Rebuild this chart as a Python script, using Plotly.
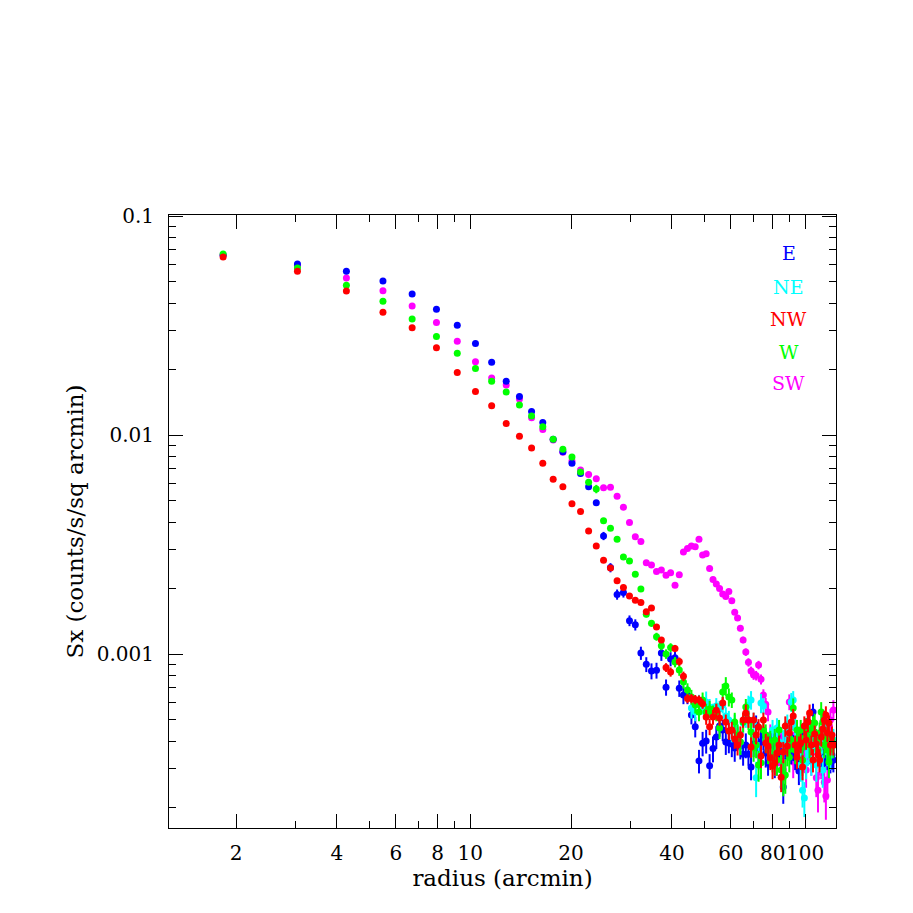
import plotly.graph_objects as go

# ---------------- data ----------------
radius = [1.83, 3.05, 4.27, 5.49, 6.71, 7.93, 9.15, 10.37, 11.59, 12.81,
          14.03, 15.25, 16.47, 17.69, 18.91, 20.13, 21.35, 22.57, 23.79, 25.01,
          26.23, 27.45, 28.67, 29.89, 31.11, 32.33, 33.55, 34.77, 35.99, 37.21,
          38.43, 39.65, 40.87, 42.09, 43.31, 44.53, 45.75, 46.97, 48.19, 49.41,
          50.63, 51.85, 53.07, 54.29, 55.51, 56.73, 57.95, 59.17, 60.39, 61.61,
          62.83, 64.05, 65.27, 66.49, 67.71, 68.93, 70.15, 71.37, 72.59, 73.81,
          75.03, 76.25, 77.47, 78.69, 79.91, 81.13, 82.35, 83.57, 84.79, 86.01,
          87.23, 88.45, 89.67, 90.89, 92.11, 93.33, 94.55, 95.77, 96.99, 98.21,
          99.43, 100.65, 101.87, 103.09, 104.31, 105.53, 106.75, 107.97, 109.19, 110.41,
          111.63, 112.85, 114.07, 115.29, 116.51, 117.73, 118.95, 120.17, 121.39]

radius_ne = [45.75, 46.97, 48.19, 49.41, 50.63, 51.85, 53.07, 54.29, 55.51, 56.73,
             57.95, 59.17, 60.39, 61.61, 62.83, 64.05, 65.27, 66.49, 67.71, 68.93,
             70.15, 71.37, 72.59, 73.81, 75.03, 76.25, 77.47, 78.69, 79.91, 81.13,
             82.35, 83.57, 84.79, 86.01, 87.23, 88.45, 89.67, 90.89, 92.11, 93.33,
             94.55, 95.77, 96.99, 98.21, 99.43, 100.65, 101.87, 103.09, 104.31, 105.53,
             106.75, 107.97, 109.19, 110.41, 111.63, 112.85, 114.07, 115.29, 116.51, 117.73,
             118.95, 120.17, 121.39]

sx_E = [0.0662, 0.0604, 0.0559, 0.0505, 0.0440, 0.0375, 0.0317, 0.0262, 0.0215, 0.0176,
        0.0150, 0.0128, 0.0114, 0.00956, 0.00839, 0.00743, 0.00668, 0.00581, 0.00491, 0.00346,
        0.00248, 0.00187, 0.00191, 0.00142, 0.00136, 0.00101, 0.000897, 0.000836, 0.000842, 0.00101,
        0.000705, 0.000949, 0.000962, 0.000697, 0.000650, 0.000650, 0.000527, 0.000466, 0.000325, 0.000391,
        0.000401, 0.000309, 0.000370, 0.000418, 0.000469, 0.000450, 0.000396, 0.000392, 0.000388, 0.000372,
        0.000413, 0.000380, 0.000349, 0.000384, 0.000349, 0.000305, 0.000388, 0.000474, 0.000372, 0.000396,
        0.000413, 0.000353, 0.000318, 0.000372, 0.000405, 0.000311, 0.000422, 0.000392, 0.000342, 0.000247,
        0.000380, 0.000413, 0.000427, 0.000364, 0.000376, 0.000335, 0.000396, 0.000292, 0.000328, 0.000405,
        0.000436, 0.000459, 0.000489, 0.000364, 0.000427, 0.000543, 0.000413, 0.000392, 0.000364, 0.000384,
        0.000338, 0.000318, 0.000328, 0.000357, 0.000335, 0.000372, 0.000325, 0.000346, 0.000328]

err_E = [0, 0, 0, 0, 0, 0, 0, 0, 0, 0,
         0, 0, 0.0001, 0.0001, 0.0001, 0.0001, 0.0001, 0.0001, 0.0001, 0.00015,
         0.00012, 0.0001, 0.0001, 0.00008, 0.00008, 0.00007, 0.00007, 0.00007, 0.00007, 0.00008,
         0.00006, 0.00007, 0.00007, 0.00006, 0.00006, 0.00006, 0.00005, 0.00005, 0.00004, 0.00005,
         0.00005, 0.00004, 0.00005, 0.00005, 0.00005, 0.00005, 0.00005, 0.00004, 0.00005, 0.00005,
         0.00005, 0.00005, 0.00004, 0.00005, 0.00004, 0.00004, 0.00005, 0.00005, 0.00005, 0.00005,
         0.00005, 0.00005, 0.00004, 0.00005, 0.00005, 0.00004, 0.00005, 0.00005, 0.00004, 0.00004,
         0.00005, 0.00005, 0.00005, 0.00005, 0.00005, 0.00004, 0.00005, 0.00004, 0.00004, 0.00005,
         0.00005, 0.00005, 0.00005, 0.00005, 0.00005, 0.00005, 0.00005, 0.00005, 0.00005, 0.00005,
         0.00004, 0.00004, 0.00004, 0.00005, 0.00004, 0.00005, 0.00004, 0.00005, 0.00004]

sx_NE = [0.000567, 0.000543, 0.000591, 0.000579, 0.000604, 0.000573, 0.000543, 0.000579, 0.000561, 0.000585,
         0.000521, 0.000500, 0.000445, 0.000479, 0.000422, 0.000396, 0.000484, 0.000510, 0.000585, 0.000617,
         0.000489, 0.000272, 0.000346, 0.000597, 0.000579, 0.000405, 0.000384, 0.000357, 0.000450, 0.000328,
         0.000459, 0.000396, 0.000295, 0.000384, 0.000436, 0.000479, 0.000413, 0.000604, 0.000617, 0.000459,
         0.000372, 0.000413, 0.000311, 0.000239, 0.000220, 0.000318, 0.000384, 0.000450, 0.000328, 0.000364,
         0.000427, 0.000311, 0.000384, 0.000357, 0.000413, 0.000295, 0.000459, 0.000396, 0.000357, 0.000418,
         0.000346, 0.000384, 0.000405]

err_NE = [0.00006, 0.00005, 0.00006, 0.00005, 0.00007, 0.00005, 0.00005, 0.00005, 0.00005, 0.00005,
          0.00005, 0.00005, 0.00005, 0.00005, 0.00005, 0.00005, 0.00005, 0.00005, 0.00006, 0.00006,
          0.00005, 0.00005, 0.00005, 0.00006, 0.00005, 0.00005, 0.00005, 0.00005, 0.00005, 0.00005,
          0.00005, 0.00005, 0.00005, 0.00005, 0.00005, 0.00005, 0.00005, 0.00006, 0.00006, 0.00005,
          0.00005, 0.00005, 0.00005, 0.00004, 0.00004, 0.00005, 0.00005, 0.00005, 0.00005, 0.00005,
          0.00005, 0.00005, 0.00005, 0.00005, 0.00005, 0.00005, 0.00005, 0.00005, 0.00005, 0.00005,
          0.00005, 0.00005, 0.00005]

sx_NW = [0.0650, 0.0559, 0.0454, 0.0364, 0.0309, 0.0250, 0.0193, 0.0158, 0.0136, 0.0113,
         0.00986, 0.00872, 0.00743, 0.00628, 0.00581, 0.00486, 0.00447, 0.00364, 0.00311, 0.00268,
         0.00247, 0.00216, 0.00201, 0.00184, 0.00176, 0.00172, 0.00156, 0.00162, 0.00133, 0.00116,
         0.000868, 0.000828, 0.00106, 0.000924, 0.000791, 0.000626, 0.000626, 0.000620, 0.000617, 0.000592,
         0.000515, 0.000466, 0.000515, 0.000553, 0.000510, 0.000597, 0.000489, 0.000445, 0.000450, 0.000409,
         0.000384, 0.000427, 0.000500, 0.000538, 0.000500, 0.000376, 0.000500, 0.000427, 0.000464, 0.000342,
         0.000500, 0.000392, 0.000380, 0.000335, 0.000308, 0.000318, 0.000353, 0.000384, 0.000274, 0.000357,
         0.000469, 0.000380, 0.000436, 0.000489, 0.000521, 0.000384, 0.000338, 0.000380, 0.000392, 0.000305,
         0.000469, 0.000405, 0.000489, 0.000538, 0.000384, 0.000328, 0.000431, 0.000388, 0.000346, 0.000328,
         0.000418, 0.000454, 0.000500, 0.000527, 0.000436, 0.000484, 0.000384, 0.000427, 0.000384]

err_NW = [0, 0, 0, 0, 0, 0, 0, 0, 0, 0,
          0, 0, 0, 0, 0, 0, 0, 0, 0, 0,
          0, 0, 0, 0, 0, 0, 0, 0, 0, 0,
          0.00004, 0.00004, 0.00004, 0.00004, 0.00004, 0.00003, 0.00003, 0.00003, 0.00003, 0.00003,
          0.00004, 0.00004, 0.00004, 0.00004, 0.00004, 0.00004, 0.00004, 0.00004, 0.00004, 0.00004,
          0.00004, 0.00004, 0.00004, 0.00005, 0.00004, 0.00004, 0.00004, 0.00004, 0.00004, 0.00004,
          0.00004, 0.00004, 0.00004, 0.00004, 0.00004, 0.00004, 0.00004, 0.00004, 0.00004, 0.00004,
          0.00005, 0.00004, 0.00004, 0.00004, 0.00004, 0.00004, 0.00004, 0.00004, 0.00004, 0.00004,
          0.00005, 0.00004, 0.00005, 0.00005, 0.00004, 0.00004, 0.00004, 0.00004, 0.00004, 0.00004,
          0.00004, 0.00004, 0.00005, 0.00005, 0.00004, 0.00004, 0.00004, 0.00004, 0.00004]

sx_W = [0.0671, 0.0579, 0.0483, 0.0408, 0.0339, 0.0282, 0.0236, 0.0201, 0.0176, 0.0157,
        0.0137, 0.0122, 0.0109, 0.00956, 0.00860, 0.00793, 0.00678, 0.00608, 0.00567, 0.00406,
        0.00375, 0.00334, 0.00277, 0.00266, 0.00231, 0.00198, 0.00152, 0.00138, 0.00120, 0.00109,
        0.00100, 0.00107, 0.000919, 0.000845, 0.000745, 0.000685, 0.000636, 0.000585, 0.000543, 0.000617,
        0.000543, 0.000561, 0.000532, 0.000543, 0.000459, 0.000671, 0.000714, 0.000636, 0.000617, 0.000489,
        0.000427, 0.000396, 0.000489, 0.000573, 0.000500, 0.000440, 0.000372, 0.000384, 0.000311, 0.000318,
        0.000450, 0.000427, 0.000364, 0.000396, 0.000338, 0.000405, 0.000328, 0.000450, 0.000295, 0.000274,
        0.000280, 0.000357, 0.000338, 0.000405, 0.000567, 0.000364, 0.000450, 0.000405, 0.000450, 0.000328,
        0.000413, 0.000459, 0.000450, 0.000384, 0.000450, 0.000469, 0.000484, 0.000405, 0.000364, 0.000436,
        0.000543, 0.000489, 0.000384, 0.000413, 0.000364, 0.000321, 0.000372, 0.000405, 0.000384]

err_W = [0, 0, 0, 0, 0, 0, 0, 0, 0, 0,
         0, 0, 0, 0, 0, 0, 0, 0, 0.00025, 0.00006,
         0.00006, 0.00006, 0.00006, 0.00006, 0.00006, 0.00006, 0.00005, 0.00005, 0.00005, 0.00005,
         0.00005, 0.00005, 0.00005, 0.00005, 0.00005, 0.00005, 0.00005, 0.00005, 0.00005, 0.00005,
         0.00005, 0.00005, 0.00005, 0.00005, 0.00005, 0.00006, 0.00007, 0.00006, 0.00005, 0.00005,
         0.00005, 0.00005, 0.00005, 0.00005, 0.00005, 0.00005, 0.00005, 0.00005, 0.00005, 0.00005,
         0.00005, 0.00005, 0.00005, 0.00005, 0.00005, 0.00005, 0.00005, 0.00005, 0.00005, 0.00005,
         0.00005, 0.00005, 0.00005, 0.00005, 0.00006, 0.00005, 0.00005, 0.00005, 0.00005, 0.00005,
         0.00005, 0.00005, 0.00005, 0.00005, 0.00005, 0.00005, 0.00005, 0.00005, 0.00005, 0.00005,
         0.00006, 0.00005, 0.00005, 0.00005, 0.00005, 0.00005, 0.00005, 0.00005, 0.00005]

sx_SW = [0.0664, 0.0595, 0.0521, 0.0456, 0.0388, 0.0326, 0.0268, 0.0216, 0.0182, 0.0169,
         0.0146, 0.0120, 0.0106, 0.0095, 0.00835, 0.00760, 0.00692, 0.00661, 0.00632, 0.00575,
         0.00577, 0.00525, 0.00468, 0.00399, 0.00343, 0.00326, 0.00261, 0.00255, 0.00238, 0.00242,
         0.00229, 0.00235, 0.00206, 0.00230, 0.00292, 0.00303, 0.00311, 0.00309, 0.00334, 0.00283,
         0.00287, 0.00246, 0.00219, 0.00209, 0.00199, 0.00188, 0.00183, 0.00193, 0.00175, 0.00155,
         0.00146, 0.00131, 0.00116, 0.00102, 0.000916, 0.000836, 0.000802, 0.000797, 0.000891, 0.000766,
         0.000650, 0.000590, 0.000543, 0.000427, 0.000372, 0.000396, 0.000328, 0.000357, 0.000413, 0.000295,
         0.000346, 0.000384, 0.000604, 0.000405, 0.000321, 0.000427, 0.000372, 0.000396, 0.000318, 0.000346,
         0.000405, 0.000295, 0.000372, 0.000436, 0.000328, 0.000357, 0.000396, 0.000272, 0.000239, 0.000328,
         0.000318, 0.000364, 0.000260, 0.000225, 0.000266, 0.000384, 0.000500, 0.000427, 0.000555]

err_SW = [0, 0, 0, 0, 0, 0, 0, 0, 0, 0,
          0, 0, 0, 0, 0, 0, 0, 0, 0, 0,
          0, 0, 0, 0, 0, 0, 0, 0, 0, 0,
          0, 0, 0, 0, 0.00004, 0.00004, 0.00004, 0.00004, 0.00004, 0.00004,
          0.00004, 0.00004, 0.00004, 0.00004, 0.00004, 0.00004, 0.00004, 0.00004, 0.00004, 0.00004,
          0.00004, 0.00004, 0.00004, 0.00004, 0.00004, 0.00004, 0.00004, 0.00004, 0.00004, 0.00004,
          0.00004, 0.00004, 0.00005, 0.00005, 0.00005, 0.00005, 0.00005, 0.00005, 0.00005, 0.00005,
          0.00005, 0.00005, 0.00005, 0.00005, 0.00005, 0.00005, 0.00005, 0.00005, 0.00005, 0.00005,
          0.00005, 0.00005, 0.00005, 0.00005, 0.00005, 0.00005, 0.00005, 0.00005, 0.00005, 0.00005,
          0.00005, 0.00005, 0.00005, 0.00005, 0.00005, 0.00005, 0.00006, 0.00005, 0.00006]

x_tick_vals = [2, 4, 6, 8, 10, 20, 40, 60, 80, 100]
x_tick_text = ["2", "4", "6", "8", "10", "20", "40", "60", "80", "100"]
x_minor_vals = [3, 5, 7, 9, 30, 50, 70, 90]
y_tick_vals = [0.001, 0.01, 0.1]
y_tick_text = ["0.001", "0.01", "0.1"]
y_minor_vals = [0.0002, 0.0003, 0.0004, 0.0005, 0.0006, 0.0007, 0.0008, 0.0009,
                0.002, 0.003, 0.004, 0.005, 0.006, 0.007, 0.008, 0.009,
                0.02, 0.03, 0.04, 0.05, 0.06, 0.07, 0.08, 0.09]

labels = ["E", "NE", "NW", "W", "SW"]
colors = {"E": "#0000ff", "NE": "#00ffff", "NW": "#ff0000", "W": "#00ff00", "SW": "#ff00ff"}

# ---------------- figure ----------------
FONT = "DejaVu Serif"
fig = go.Figure()

series = [
    ("SW", radius, sx_SW, err_SW),
    ("E", radius, sx_E, err_E),
    ("NE", radius_ne, sx_NE, err_NE),
    ("W", radius, sx_W, err_W),
    ("NW", radius, sx_NW, err_NW),
]
for name, xs, ys, es in series:
    fig.add_trace(go.Scatter(
        x=xs, y=ys, mode="markers", name=name,
        marker=dict(color=colors[name], size=7, line=dict(width=0)),
        error_y=dict(type="data", array=es, visible=True, color=colors[name],
                     thickness=2, width=0),
        showlegend=False,
    ))

axis_common = dict(
    type="log", showgrid=False, zeroline=False, showline=True,
    linecolor="black", linewidth=1, mirror="ticks",
    ticks="inside", ticklen=14, tickwidth=1, tickcolor="black",
    tickfont=dict(family=FONT, size=20, color="black"),
    tickangle=0,
)

fig.update_xaxes(
    **axis_common,
    range=[0.1009, 2.092],
    tickmode="array", tickvals=x_tick_vals, ticktext=x_tick_text,
    minor=dict(tickmode="array", tickvals=x_minor_vals, ticks="inside",
               ticklen=7, tickwidth=1, tickcolor="black"),
    ticklabelstandoff=7,
    title=dict(text="radius (arcmin)", font=dict(family=FONT, size=23, color="black"),
               standoff=3),
)
fig.update_yaxes(
    **axis_common,
    range=[-3.7945, -0.9954],
    tickmode="array", tickvals=y_tick_vals, ticktext=y_tick_text,
    minor=dict(tickmode="array", tickvals=y_minor_vals, ticks="inside",
               ticklen=7, tickwidth=1, tickcolor="black"),
    ticklabelstandoff=10,
    title=dict(text="Sx (counts/s/sq arcmin)", font=dict(family=FONT, size=23, color="black"),
               standoff=6),
)

legend_y = [0.938, 0.8825, 0.830, 0.7765, 0.726]
for lab, yy in zip(labels, legend_y):
    fig.add_annotation(x=0.9295, y=yy, xref="paper", yref="paper",
                       xanchor="center", yanchor="middle", showarrow=False,
                       text=lab, font=dict(family=FONT, size=19, color=colors[lab]))

fig.update_layout(
    width=913, height=913,
    margin=dict(l=161, r=85, t=207, b=93, autoexpand=False),
    plot_bgcolor="white", paper_bgcolor="white",
    showlegend=False,
)

fig.write_html("out.html")
